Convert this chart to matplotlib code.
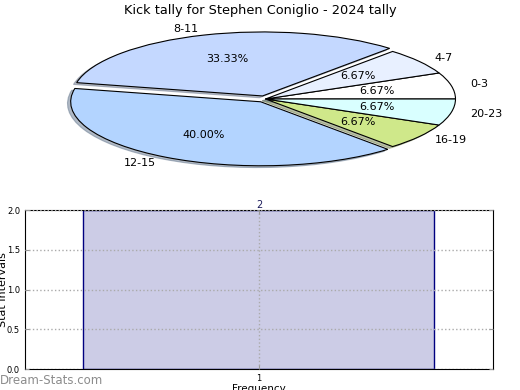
import matplotlib
matplotlib.use("Agg")
import matplotlib.pyplot as plt

title = "Kick tally for Stephen Coniglio - 2024 tally"
labels = ['0-3', '4-7', '8-11', '12-15', '16-19', '20-23']
counts = [1, 1, 5, 6, 1, 1]
colors = ['#ffffff', '#e8f0ff', '#c4d8ff', '#b3d4ff', '#cfe88a', '#d9ffff']
explode = [0, 0, 0.05, 0.05, 0, 0]

bar_x = [1]
bar_h = [2]

fig = plt.figure(figsize=(5.2, 3.9), dpi=100)

# pie, squashed into an ellipse
ax1 = fig.add_axes([0.0135, 0.5164, 0.994, 0.4595])
ax1.pie(counts, labels=labels, colors=colors, explode=explode, startangle=0,
        autopct='%.2f%%', pctdistance=0.6, labeldistance=1.1,
        shadow={'ox': -0.012, 'oy': -0.02, 'shade': 0.45},
        wedgeprops=dict(edgecolor='black', linewidth=0.8),
        textprops=dict(fontsize=8))
ax1.set_aspect('auto')
ax1.set_xlim(-1.36, 1.36)
ax1.set_ylim(-1.4, 1.4)
ax1.axis('off')
fig.text(0.5, 0.974, title, ha='center', va='center', fontsize=9.3)

# histogram-like bar
ax2 = fig.add_axes([0.048, 0.0538, 0.9, 0.4077])
ax2.bar(bar_x, bar_h, width=0.75, color='#ccccE6', edgecolor='navy', linewidth=1, zorder=1)
for x, h in zip(bar_x, bar_h):
    ax2.text(x, h, str(h), ha='center', va='bottom', fontsize=7, color='#1a1a5a')
ax2.set_xlim(0.5, 1.5)
ax2.set_ylim(0, 2)
ax2.set_xticks(bar_x)
ax2.set_yticks([0, 0.5, 1.0, 1.5, 2.0])
ax2.set_yticklabels(['0.0', '0.5', '1.0', '1.5', '2.0'])
ax2.tick_params(labelsize=6, direction='in', length=3, color='#999999', right=True, top=True)
ax2.grid(True, linestyle=':', color='#aaaaaa', linewidth=1, zorder=2)
ax2.set_axisbelow(False)
ax2.set_xlabel('Frequency', fontsize=7.5, labelpad=1)
ax2.set_ylabel('Stat Intervals', fontsize=8)
ax2.yaxis.set_label_coords(-0.036, 0.5)

fig.text(0.0, 0.025, 'Dream-Stats.com', fontsize=8.5, color='#8c8c8c', ha='left', va='center')

fig.savefig('out.png', dpi=100)
